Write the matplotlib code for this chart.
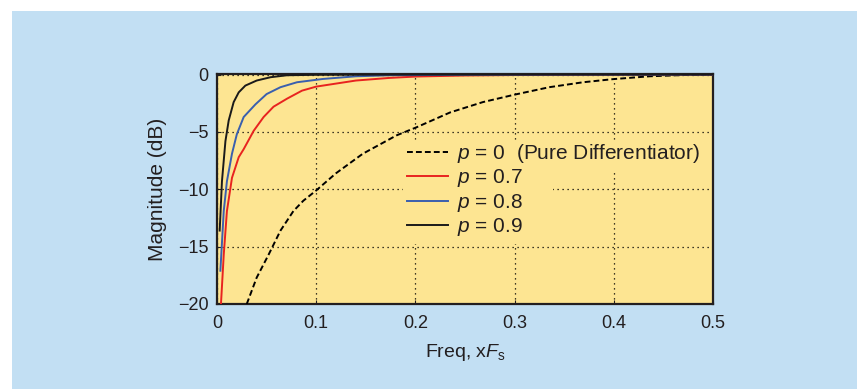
import matplotlib
matplotlib.use("Agg")
import matplotlib.pyplot as plt
from matplotlib.patches import Rectangle

plt.rcParams['font.family'] = ['Liberation Sans', 'DejaVu Sans']
plt.rcParams['mathtext.fontset'] = 'custom'
plt.rcParams['mathtext.it'] = 'Liberation Sans:italic'
plt.rcParams['mathtext.rm'] = 'Liberation Sans'

# values (freq in units of Fs, magnitude in dB)
f_p0 = [0.030, 0.040, 0.052, 0.064, 0.077, 0.087, 0.100, 0.120, 0.147, 0.181,
        0.201, 0.235, 0.268, 0.300, 0.335, 0.369, 0.399, 0.436, 0.470, 0.500]
db_p0 = [-20.0, -17.7, -15.7, -13.6, -11.9, -11.0, -10.1, -8.6, -6.9, -5.3,
         -4.6, -3.3, -2.4, -1.75, -1.1, -0.67, -0.4, -0.15, -0.04, 0.0]

f_p7 = [0.004, 0.0068, 0.010, 0.0151, 0.0219, 0.0269, 0.037, 0.047, 0.057, 0.0706,
        0.0857, 0.100, 0.14, 0.174, 0.201, 0.25, 0.30, 0.40, 0.50]
db_p7 = [-20.0, -15.7, -11.9, -9.0, -7.2, -6.5, -4.9, -3.7, -2.8, -2.1,
         -1.4, -1.05, -0.52, -0.29, -0.17, -0.08, -0.04, -0.01, 0.0]

f_p8 = [0.0034, 0.0068, 0.010, 0.0151, 0.020, 0.0269, 0.0387, 0.050, 0.064, 0.0806,
        0.107, 0.14, 0.174, 0.25, 0.35, 0.50]
db_p8 = [-17.1, -11.9, -9.3, -6.9, -5.2, -3.7, -2.6, -1.7, -1.1, -0.67,
         -0.38, -0.15, -0.06, -0.02, -0.01, 0.0]

f_p9 = [0.0027, 0.005, 0.0085, 0.0118, 0.0168, 0.0219, 0.0286, 0.040, 0.054, 0.0706,
        0.10, 0.20, 0.50]
db_p9 = [-13.6, -9.3, -5.8, -4.0, -2.4, -1.55, -0.96, -0.52, -0.23, -0.06,
         -0.02, 0.0, 0.0]

labels = [r'$p$ = 0  (Pure Differentiator)', r'$p$ = 0.7', r'$p$ = 0.8', r'$p$ = 0.9']

bg_blue = '#c2dff3'
face_yellow = '#fde592'
ink = '#231f20'

fig = plt.figure(figsize=(8.57, 3.89), dpi=100)
fig.patch.set_facecolor('white')
fig.patches.append(Rectangle((12 / 857, 0), 1, 1 - 11 / 389, transform=fig.transFigure,
                             facecolor=bg_blue, edgecolor='none', zorder=-10))

ax = fig.add_axes([217 / 857, 1 - 304 / 389, 496 / 857, 230 / 389])
ax.set_facecolor(face_yellow)

ax.plot(f_p0, db_p0, color='black', lw=1.4, ls=(0, (3, 1.6)), label=labels[0], zorder=3)
ax.plot(f_p7, db_p7, color='#e8231f', lw=1.4, label=labels[1], zorder=3)
ax.plot(f_p8, db_p8, color='#3a5fae', lw=1.4, label=labels[2], zorder=3)
ax.plot(f_p9, db_p9, color='#1a1a1a', lw=1.4, label=labels[3], zorder=3)

ax.set_xlim(0, 0.5)
ax.set_ylim(-20, 0.05)
ax.set_xticks([0, 0.1, 0.2, 0.3, 0.4, 0.5])
ax.set_xticklabels(['0', '0.1', '0.2', '0.3', '0.4', '0.5'])
ax.set_yticks([0, -5, -10, -15, -20])
ax.set_yticklabels(['0', '\u22125', '\u221210', '\u221215', '\u221220'])
ax.grid(True, color='black', ls=(0, (1, 3)), lw=0.9, zorder=1)
ax.tick_params(axis='both', labelsize=13, colors=ink, length=3, direction='in')
ax.tick_params(axis='x', pad=8)
ax.tick_params(axis='y', pad=6)
for s in ax.spines.values():
    s.set_linewidth(1.6)
    s.set_color(ink)

ax.set_xlabel(r'Freq, x$F_\mathrm{s}$', fontsize=14, color=ink, labelpad=7)
ax.set_ylabel('Magnitude (dB)', fontsize=15, color=ink, labelpad=8)

# yellow patches behind the legend text that hide the grid
ax.add_patch(Rectangle((0.375, 0.261), 0.302, 0.443, transform=ax.transAxes,
                       facecolor=face_yellow, edgecolor='none', zorder=2))
ax.add_patch(Rectangle((0.375, 0.583), 0.615, 0.121, transform=ax.transAxes,
                       facecolor=face_yellow, edgecolor='none', zorder=2))

leg = ax.legend(loc='upper left', bbox_to_anchor=(0.383, 0.705), fontsize=15,
                frameon=False, handlelength=1.95, handletextpad=0.45,
                labelspacing=0.12, borderpad=0, borderaxespad=0)
for t in leg.get_texts():
    t.set_color(ink)

fig.savefig('out.png', dpi=100)
